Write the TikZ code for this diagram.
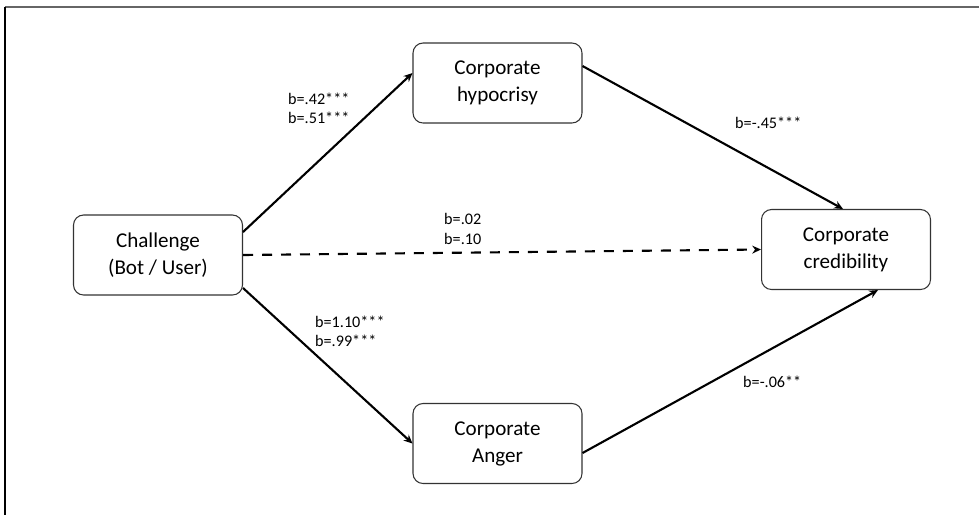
\documentclass[tikz,border=0pt]{standalone}
\usepackage{fontspec}
\setmainfont{Carlito}
\usetikzlibrary{arrows.meta}

\begin{document}
\begin{tikzpicture}[x=0.02cm, y=-0.02cm,
  box/.style={draw=black!80, line width=0.6pt, rounded corners=0.2cm, fill=white,
    minimum width=3.38cm, minimum height=1.6cm, align=center,
    font=\fontsize{12}{15.4}\selectfont},
  effect/.style={line width=1.2pt, -{Stealth[length=5pt,width=4.5pt]}},
  coef/.style={align=left, anchor=west, font=\fontsize{9.2}{11}\selectfont}]
  \useasboundingbox (0,0) rectangle (979,515);
  \draw[line width=1.2pt, black!60] (5,7) -- (979,7);
  \draw[line width=0.6pt] (5,7) -- (5,515);

  \node[box] (chal) at (158,255) {Challenge\\(Bot / User)};
  \node[box] (hyp) at (497.5,83) {Corporate\\hypocrisy};
  \node[box] (ang) at (497.5,443.5) {Corporate\\Anger};
  \node[box] (cred) at (846,249.5) {Corporate\\credibility};

  \draw[effect] ([yshift=0.46cm]chal.east) -- ([yshift=0.2cm]hyp.west);
  \draw[effect] ([yshift=-0.66cm]chal.east) -- (ang.west);
  \draw[effect, dash pattern=on 0.2cm off 0.18cm] (chal.east) -- (cred.west);
  \draw[effect] ([yshift=0.34cm]hyp.east) -- ([xshift=-0.06cm]cred.north);
  \draw[effect] ([yshift=-0.19cm]ang.east) -- ([xshift=0.64cm]cred.south);

  \node[coef] (chalhyp) at (282,108) {b=.42***\\b=.51***};
  \node[coef] (hypcred) at (729,123) {b=-.45***};
  \node[coef] (chalcred) at (438,229) {b=.02\\b=.10};
  \node[coef] (chalang) at (309,331) {b=1.10***\\b=.99***};
  \node[coef] (angcred) at (737,382) {b=-.06**};
\end{tikzpicture}
\end{document}
